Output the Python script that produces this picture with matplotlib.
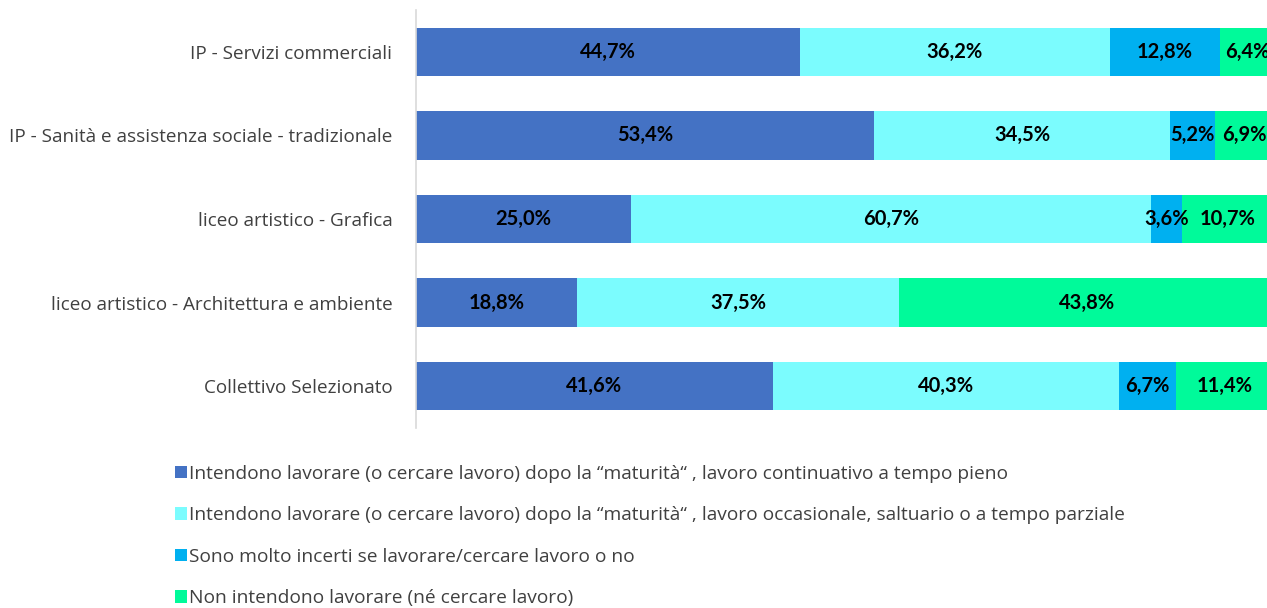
import matplotlib
matplotlib.use("Agg")
import matplotlib.pyplot as plt
import numpy as np

plt.rcParams['font.family'] = ['Open Sans', 'DejaVu Sans']

categories = [
    "IP - Servizi commerciali",
    "IP - Sanità e assistenza sociale - tradizionale",
    "liceo artistico - Grafica",
    "liceo artistico - Architettura e ambiente",
    "Collettivo Selezionato",
]
series_names = [
    "Intendono lavorare (o cercare lavoro) dopo la “maturità“ , lavoro continuativo a tempo pieno",
    "Intendono lavorare (o cercare lavoro) dopo la “maturità“ , lavoro occasionale, saltuario o a tempo parziale",
    "Sono molto incerti se lavorare/cercare lavoro o no",
    "Non intendono lavorare (né cercare lavoro)",
]
full_time = [44.7, 53.4, 25.0, 18.8, 41.6]
occasional = [36.2, 34.5, 60.7, 37.5, 40.3]
uncertain = [12.8, 5.2, 3.6, 0.0, 6.7]
not_working = [6.4, 6.9, 10.7, 43.8, 11.4]

colors = ["#4472C4", "#7BFCFE", "#00B0F0", "#00FA9A"]

W, H = 1267, 608
fig = plt.figure(figsize=(W / 100, H / 100), dpi=100)
left, right = 416, 1274
top, bottom = 10, 428
ax = fig.add_axes([left / W, 1 - bottom / H, (right - left) / W, (bottom - top) / H])

y = np.arange(len(categories))
data = [full_time, occasional, uncertain, not_working]
cum = np.zeros(len(categories))
handles = []
for vals, col, name in zip(data, colors, series_names):
    vals = np.array(vals)
    bars = ax.barh(y, vals, left=cum, height=0.58, color=col, label=name)
    handles.append(bars)
    for yi, (v, c) in enumerate(zip(vals, cum)):
        if v > 0:
            ax.text(c + v / 2, yi, f"{v:.1f}%".replace(".", ","), ha="center", va="center",
                    fontsize=14.5, fontweight="bold", color="black",
                    family=["Lato", "DejaVu Sans"])
    cum += vals

ax.set_xlim(0, 100)
ax.set_ylim(len(categories) - 0.5, -0.5)
ax.set_yticks(y)
ax.set_yticklabels(categories, fontsize=13.6, color="#404040")
ax.tick_params(axis="y", length=0, pad=17)
ax.set_xticks([])
for s in ["top", "right", "bottom"]:
    ax.spines[s].set_visible(False)
ax.spines["left"].set_color("#D9D9D9")
ax.spines["left"].set_linewidth(1.2)

fig.legend(handles=handles, labels=series_names, loc="upper left",
           bbox_to_anchor=(175 / W, 1 - 465 / H), frameon=False, fontsize=13.8,
           labelcolor="#404040", handlelength=0.62, handleheight=0.62,
           handletextpad=0.12, labelspacing=1.22, borderaxespad=0, borderpad=0)

fig.savefig("out.png", dpi=100)
